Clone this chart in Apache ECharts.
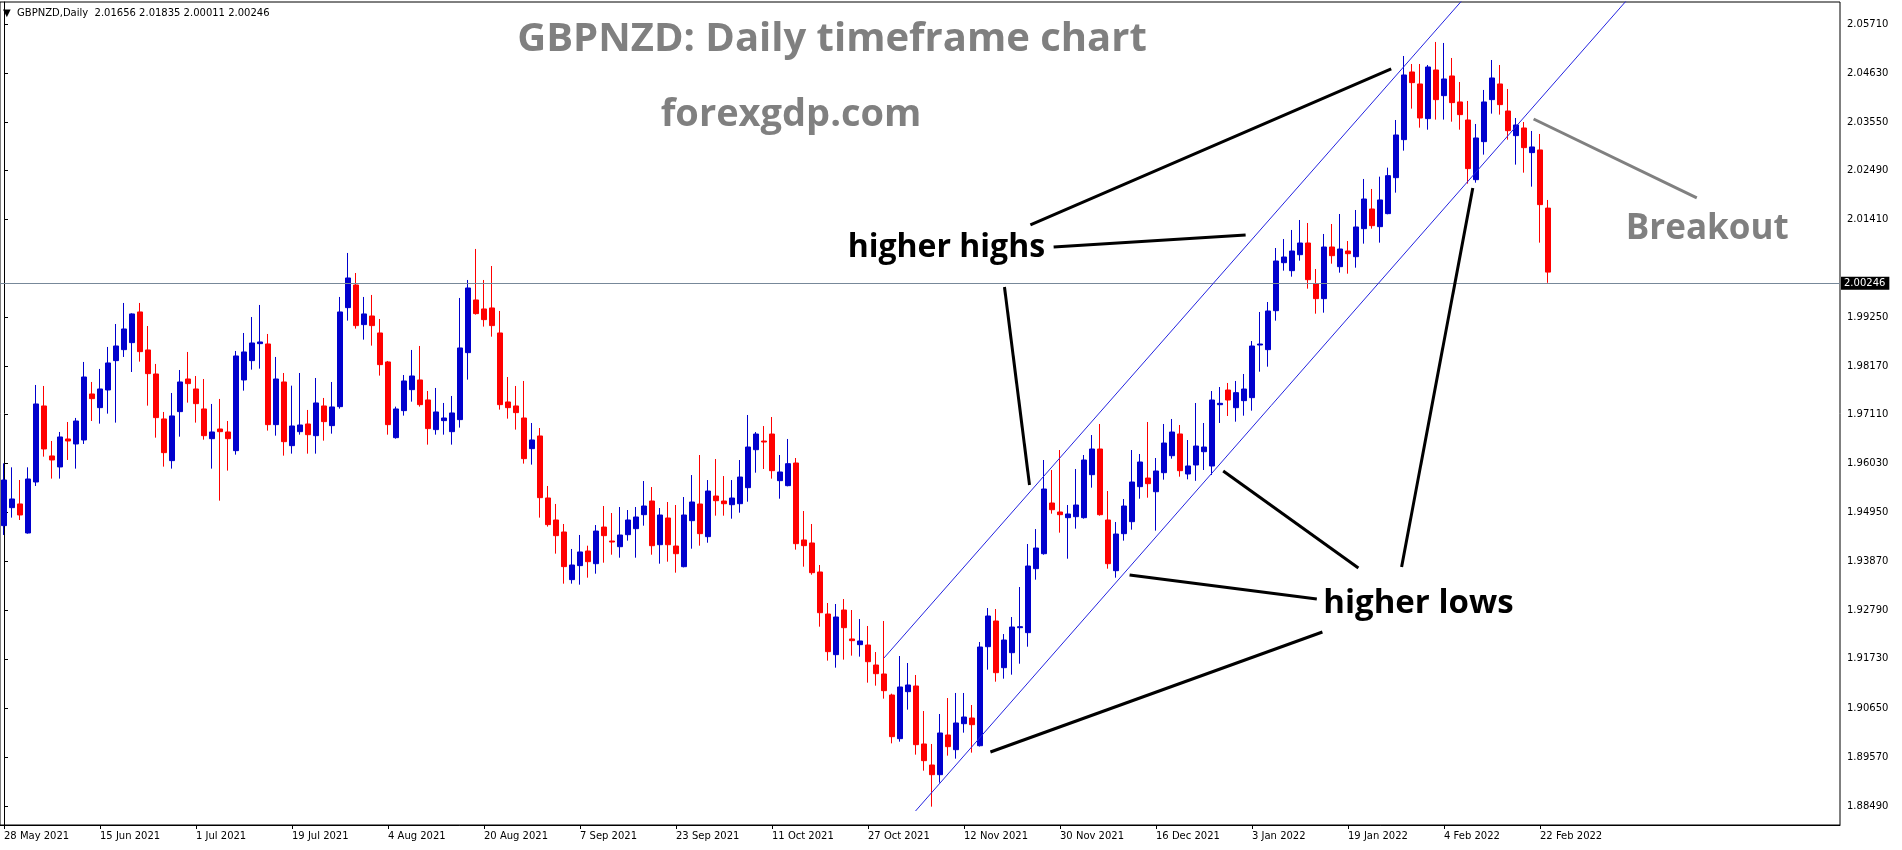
<!DOCTYPE html>
<html><head><meta charset="utf-8">
<script src="https://cdn.jsdelivr.net/npm/echarts/dist/echarts.min.js"></script>
<style>html,body{margin:0;padding:0;background:#fff}#c{width:1902px;height:850px}</style>
</head><body><div id="c"></div><script>
const symbolName = 'GBPNZD,Daily';
const titleText = 'GBPNZD: Daily timeframe chart';
const siteText = 'forexgdp.com';
const xTickLabels = ['28 May 2021','15 Jun 2021','1 Jul 2021','19 Jul 2021','4 Aug 2021','20 Aug 2021','7 Sep 2021','23 Sep 2021','11 Oct 2021','27 Oct 2021','12 Nov 2021','30 Nov 2021','16 Dec 2021','3 Jan 2022','19 Jan 2022','4 Feb 2022','22 Feb 2022'];
const yTickLabels = [1.88490,1.89570,1.90650,1.91730,1.92790,1.93870,1.94950,1.96030,1.97110,1.98170,1.99250,2.01410,2.02490,2.03550,2.04630,2.05710];

const opens = [1.94664,1.95060,1.95141,1.94502,1.95625,1.97299,1.96198,1.95956,1.96572,1.96462,1.96550,1.97563,1.97262,1.97651,1.98297,1.98539,1.98693,1.99369,1.98532,1.98003,
1.97013,1.96095,1.97174,1.97893,1.97673,1.97233,1.96579,1.96792,1.96726,1.96315,1.97871,1.98297,1.98671,1.98664,1.96888,1.97827,1.96425,1.96733,1.96902,1.96645,
1.97299,1.96866,1.97284,1.99464,1.99963,1.99090,1.99280,1.98906,1.98268,1.96601,1.97196,1.97658,1.97871,1.97431,1.96778,1.96976,1.96733,1.96998,1.98473,1.99633,
1.99435,1.99457,1.98906,1.97387,1.97299,1.97034,1.96359,1.96638,1.95273,1.94788,1.94524,1.93475,1.93783,1.94105,1.93826,1.94633,1.94325,1.94200,1.94465,1.94597,
1.94905,1.95206,1.94244,1.94832,1.94215,1.93760,1.94773,1.95140,1.94421,1.95316,1.95206,1.95125,1.95147,1.95500,1.96336,1.96527,1.96681,1.95654,1.95544,1.96043,
1.94348,1.94282,1.93643,1.92718,1.91823,1.92806,1.92168,1.92043,1.92035,1.91595,1.91397,1.90934,1.89973,1.91008,1.91133,1.89856,1.89393,1.89180,1.90054,1.89731,
1.90303,1.90428,1.89818,1.91998,1.92564,1.91536,1.91866,1.92417,1.92307,1.93716,1.94046,1.95162,1.94964,1.94839,1.94861,1.94839,1.95786,1.96351,1.94788,1.93672,
1.94487,1.94751,1.95522,1.95712,1.95411,1.95830,1.96204,1.96682,1.95801,1.95999,1.96292,1.95977,1.97327,1.97650,1.97261,1.97416,1.97482,1.98641,1.98539,1.99397,
2.00454,2.00278,2.00630,2.00887,1.99985,1.99662,2.00799,2.00366,2.00711,2.00586,2.01203,2.01636,2.01247,2.01534,2.02326,2.03163,2.04653,2.04389,2.03626,2.04697,
2.04132,2.04565,2.03993,2.03596,2.02282,2.03119,2.04044,2.04389,2.03794,2.03251,2.03420,2.02877,2.02936,2.01656];
const highs = [1.96036,1.95948,1.95669,1.95948,1.97761,1.97739,1.96528,1.96726,1.96946,1.97035,1.98268,1.97827,1.98114,1.98598,1.99104,1.99567,1.99340,1.99567,1.99060,1.98224,
1.97167,1.97585,1.98091,1.98488,1.97959,1.97893,1.97343,1.97453,1.96968,1.98510,1.98906,1.99258,1.99523,1.98884,1.98378,1.98025,1.97746,1.98025,1.97211,1.97915,
1.97475,1.97827,1.99699,2.00668,2.00227,1.99699,1.99743,1.99214,1.98290,1.97284,1.97981,1.98532,1.98620,1.97629,1.97695,1.97365,1.97519,1.99677,2.00073,2.00756,
2.00073,2.00381,1.99391,1.97937,1.97739,1.97849,1.96924,1.96814,1.95537,1.95141,1.94700,1.94150,1.94458,1.94222,1.94677,1.95096,1.94942,1.95074,1.95008,1.95074,
1.95646,1.95514,1.95052,1.95184,1.95118,1.95294,1.95778,1.96219,1.95668,1.96131,1.95756,1.95668,1.96109,1.97100,1.96725,1.96857,1.97056,1.96219,1.96572,1.96153,
1.94986,1.94700,1.93797,1.92960,1.92938,1.93048,1.92806,1.92608,1.92454,1.91881,1.92564,1.90964,1.91793,1.91639,1.91375,1.90582,1.89856,1.90516,1.90868,1.90979,
1.90979,1.90714,1.92101,1.92850,1.92828,1.92277,1.92652,1.93312,1.94259,1.94589,1.96109,1.95889,1.96329,1.95118,1.95911,1.96219,1.96659,1.96902,1.95426,1.94744,
1.95250,1.96329,1.96241,1.96946,1.96153,1.96902,1.97012,1.96880,1.96549,1.97364,1.96924,1.97628,1.97716,1.97805,1.97849,1.98003,1.98729,1.99368,1.99588,2.00777,
2.00975,2.01174,2.01394,2.01328,2.00315,2.01086,2.01306,2.01526,2.00931,2.01614,2.02297,2.02077,2.02348,2.02547,2.03596,2.05005,2.04829,2.04829,2.04807,2.05314,
2.05292,2.04961,2.04433,2.04015,2.03508,2.04257,2.04917,2.04807,2.04279,2.03640,2.03552,2.03354,2.03288,2.01835];
const lows = [1.94458,1.94840,1.94788,1.94488,1.95537,1.96183,1.95699,1.95699,1.96110,1.95919,1.96462,1.96968,1.96910,1.97130,1.96932,1.98378,1.98047,1.98275,1.97306,1.96601,
1.95963,1.95919,1.96623,1.97372,1.96932,1.96557,1.95919,1.95214,1.95875,1.96227,1.97636,1.98099,1.98121,1.96756,1.96645,1.96205,1.96249,1.96667,1.96249,1.96249,
1.96535,1.96689,1.97240,1.99178,1.99002,1.98759,1.98627,1.97967,1.96667,1.96579,1.97086,1.97394,1.97284,1.96447,1.96667,1.96667,1.96447,1.96822,1.97879,1.99310,
1.99046,1.98825,1.97218,1.97020,1.96778,1.96029,1.96007,1.94840,1.94642,1.94047,1.93386,1.93386,1.93364,1.93518,1.93606,1.93848,1.94024,1.93958,1.94333,1.93958,
1.94663,1.94024,1.93826,1.93870,1.93628,1.93745,1.94156,1.94222,1.94288,1.94883,1.94883,1.94817,1.94949,1.95191,1.95830,1.95911,1.95698,1.95257,1.95530,1.94135,
1.93760,1.93584,1.92439,1.91691,1.91536,1.91713,1.91801,1.91779,1.91206,1.91140,1.90854,1.89870,1.89907,1.90612,1.89621,1.89268,1.88476,1.89004,1.89599,1.89533,
1.90105,1.89665,1.89800,1.91492,1.91228,1.91294,1.91382,1.91624,1.91998,1.93474,1.94024,1.94927,1.94509,1.93936,1.94597,1.94817,1.95500,1.94883,1.93716,1.93518,
1.94333,1.94575,1.95257,1.95279,1.94553,1.95676,1.96138,1.95742,1.95683,1.95650,1.95889,1.95779,1.96924,1.97078,1.96953,1.97085,1.97195,1.98054,1.98164,1.99177,
2.00278,2.00146,2.00498,1.99882,1.99331,1.99353,2.00432,2.00234,2.00212,2.00344,2.00873,2.01203,2.00895,2.01520,2.01996,2.02921,2.03846,2.03427,2.03383,2.03604,
2.03604,2.03559,2.03383,2.02194,2.02216,2.02833,2.03736,2.03714,2.03163,2.02613,2.02436,2.02128,2.00895,2.00011];
const closes = [1.95669,1.95251,1.94899,1.95691,1.97343,1.96352,1.96110,1.96616,1.96528,1.96968,1.97937,1.97460,1.97673,1.98246,1.98620,1.98994,1.99325,1.98495,1.98011,1.97042,
1.96271,1.97079,1.97827,1.97791,1.97350,1.96645,1.96726,1.96733,1.96579,1.98400,1.98488,1.98686,1.98708,1.96888,1.97893,1.96513,1.96858,1.96880,1.96667,1.97365,
1.96954,1.97277,1.99369,2.00117,1.99068,1.99325,1.99068,1.98209,1.96888,1.97233,1.97849,1.97959,1.97328,1.96800,1.97167,1.97034,1.97145,1.98576,1.99897,1.99332,
1.99200,1.99068,1.97328,1.97262,1.97152,1.96139,1.96550,1.95280,1.94686,1.94443,1.93761,1.93797,1.94084,1.93870,1.94545,1.94443,1.94303,1.94457,1.94788,1.94854,
1.95096,1.94222,1.94898,1.94244,1.94046,1.94898,1.95184,1.94487,1.95426,1.95213,1.95147,1.95272,1.95734,1.96395,1.96681,1.96505,1.95874,1.95845,1.96028,1.94267,
1.94223,1.93628,1.92747,1.91889,1.92652,1.92417,1.92131,1.92124,1.91668,1.91404,1.91030,1.90017,1.91111,1.91155,1.89841,1.89489,1.89180,1.90098,1.89797,1.90318,
1.90450,1.90281,1.91991,1.92674,1.91426,1.92145,1.92431,1.92439,1.93775,1.94171,1.95470,1.95015,1.94905,1.94920,1.95118,1.96109,1.96351,1.94905,1.93826,1.94479,
1.95096,1.95624,1.96065,1.95588,1.95867,1.96483,1.96725,1.95874,1.95977,1.96417,1.96395,1.97430,1.97357,1.97430,1.97592,1.97672,1.98619,1.98663,1.99390,2.00491,
2.00579,2.00711,2.00887,2.00080,1.99662,2.00799,2.00608,2.00755,2.00652,2.01240,2.01856,2.01269,2.01835,2.02370,2.03266,2.04587,2.04418,2.03640,2.04763,2.04044,
2.04499,2.03978,2.03714,2.02525,2.03200,2.03993,2.04521,2.03934,2.03361,2.03486,2.02987,2.03002,2.01732,2.00246];

// annotation geometry in [bar index, price]
const upperChannel = [[110, 1.9175], [190, 2.0778]];
const lowerChannel = [[113.94, 1.8838], [210, 2.0767]];
const highLinks = [
  [[125.06, 1.99919], [128.19, 1.95559]],
  [[131.2, 2.00800], [155.2, 2.01064]],
  [[128.3, 2.01284], [173.4, 2.04719]]
];
const lowLinks = [
  [[152.4, 1.95867], [169.3, 1.93731]],
  [[140.7, 1.93577], [164.1, 1.93050]],
  [[123.3, 1.89679], [164.8, 1.92322]],
  [[183.6, 2.02099], [174.7, 1.93753]]
];
const breakoutLink = [[191.2, 2.03618], [211.6, 2.01879]];
const noteLabels = [
  {name: 'higher highs', pos: [117.8, 2.00780], color: '#000', size: 32},
  {name: 'higher lows', pos: [176.8, 1.92940], color: '#000', size: 33},
  {name: 'Breakout', pos: [212.9, 2.01190], color: '#808080', size: 35}
];

const N = 230;
const cats = [];
for (let i = 0; i < N; i++) cats.push(String(i));
const candleData = opens.map((o, i) => [o, closes[i], lows[i], highs[i]]);
const last = opens.length - 1;
const currentPrice = closes[last];
const showTick = (idx) => idx % 12 === 0 && idx / 12 < xTickLabels.length;
const F = '"DejaVu Sans", sans-serif';

const lineSeries = (pts, color, width) => ({
  type: 'line', xAxisIndex: 1, yAxisIndex: 0, data: pts, symbol: 'none', silent: true,
  lineStyle: {color: color, width: width}, z: 5, clip: true, animation: false
});

const series = [{
  type: 'candlestick', xAxisIndex: 0, yAxisIndex: 0, data: candleData, barWidth: 5,
  itemStyle: {color: '#0000cd', color0: '#ff0000', borderColor: '#0000cd', borderColor0: '#ff0000', borderWidth: 1},
  emphasis: {disabled: true}, animation: false, z: 3,
  markLine: {
    silent: true, symbol: ['none', 'none'], animation: false,
    lineStyle: {color: '#778899', width: 1, type: 'solid'},
    label: {show: true, position: 'end', distance: 1, formatter: currentPrice.toFixed(5), backgroundColor: '#000', color: '#fff',
      fontFamily: F, fontSize: 10, padding: [2, 4, 1, 3]},
    data: [{yAxis: currentPrice}]
  }
}];
series.push(lineSeries(upperChannel, '#2323e0', 1));
series.push(lineSeries(lowerChannel, '#2323e0', 1));
highLinks.forEach(l => series.push(lineSeries(l, '#000', 3)));
lowLinks.forEach(l => series.push(lineSeries(l, '#000', 3)));
series.push(lineSeries(breakoutLink, '#808080', 3));

const chart = echarts.init(document.getElementById('c'), null, {renderer: 'canvas'});
chart.setOption({
  backgroundColor: '#fff',
  animation: false,
  grid: {left: 0, right: 62, top: 2, bottom: 25, show: true, borderColor: '#000', borderWidth: 1, backgroundColor: '#fff', outerBoundsMode: 'none', containLabel: false},
  xAxis: [{
    type: 'category', data: cats, boundaryGap: true,
    axisLine: {show: true, lineStyle: {color: '#000', width: 1}},
    axisTick: {show: true, alignWithLabel: true, interval: showTick, length: 4, lineStyle: {color: '#000'}},
    axisLabel: {interval: showTick, formatter: (v, idx) => xTickLabels[Number(v) / 12] || '', align: 'left', margin: 6,
      fontFamily: F, fontSize: 10, color: '#000'},
    splitLine: {show: false}
  }, {
    type: 'value', min: -0.5, max: N - 0.5, show: false, splitLine: {show: false}
  }],
  yAxis: [{
    type: 'value', position: 'right', min: 1.88072, max: 2.06194, scale: true,
    axisLine: {show: true, lineStyle: {color: '#000', width: 1}},
    axisTick: {show: true, length: 4, customValues: yTickLabels, lineStyle: {color: '#000'}},
    axisLabel: {customValues: yTickLabels, formatter: v => Number(v).toFixed(5), margin: 7, fontFamily: F, fontSize: 10, color: '#000'},
    splitLine: {show: false}
  }],
  graphic: [
    {type: 'text', x: 3, y: 13, z: 20, style: {text: '\u25BC  ' + symbolName + '  ' + [opens[last], highs[last], lows[last], closes[last]].map(v => v.toFixed(5)).join(' '),
      font: '10px "DejaVu Sans"', fill: '#000', verticalAlign: 'middle'}},
    {type: 'text', x: 832, y: 40, z: 20, style: {text: titleText, font: 'bold 40px "Open Sans"', fill: '#808080', align: 'center', verticalAlign: 'middle'}},
    {type: 'text', x: 791, y: 115, z: 20, style: {text: siteText, font: 'bold 38px "Open Sans"', fill: '#808080', align: 'center', verticalAlign: 'middle'}}
  ],
  series: series
});
// annotation texts placed through the chart's own scales
const noteGraphics = noteLabels.map((n, i) => {
  const p = chart.convertToPixel({xAxisIndex: 1, yAxisIndex: 0}, n.pos);
  return {id: 'note' + i, type: 'text', x: p[0], y: p[1], z: 20, style: {text: n.name, font: 'bold ' + n.size + 'px "Open Sans"', fill: n.color, align: 'center', verticalAlign: 'middle'}};
});
chart.setOption({graphic: noteGraphics});
</script></body></html>
